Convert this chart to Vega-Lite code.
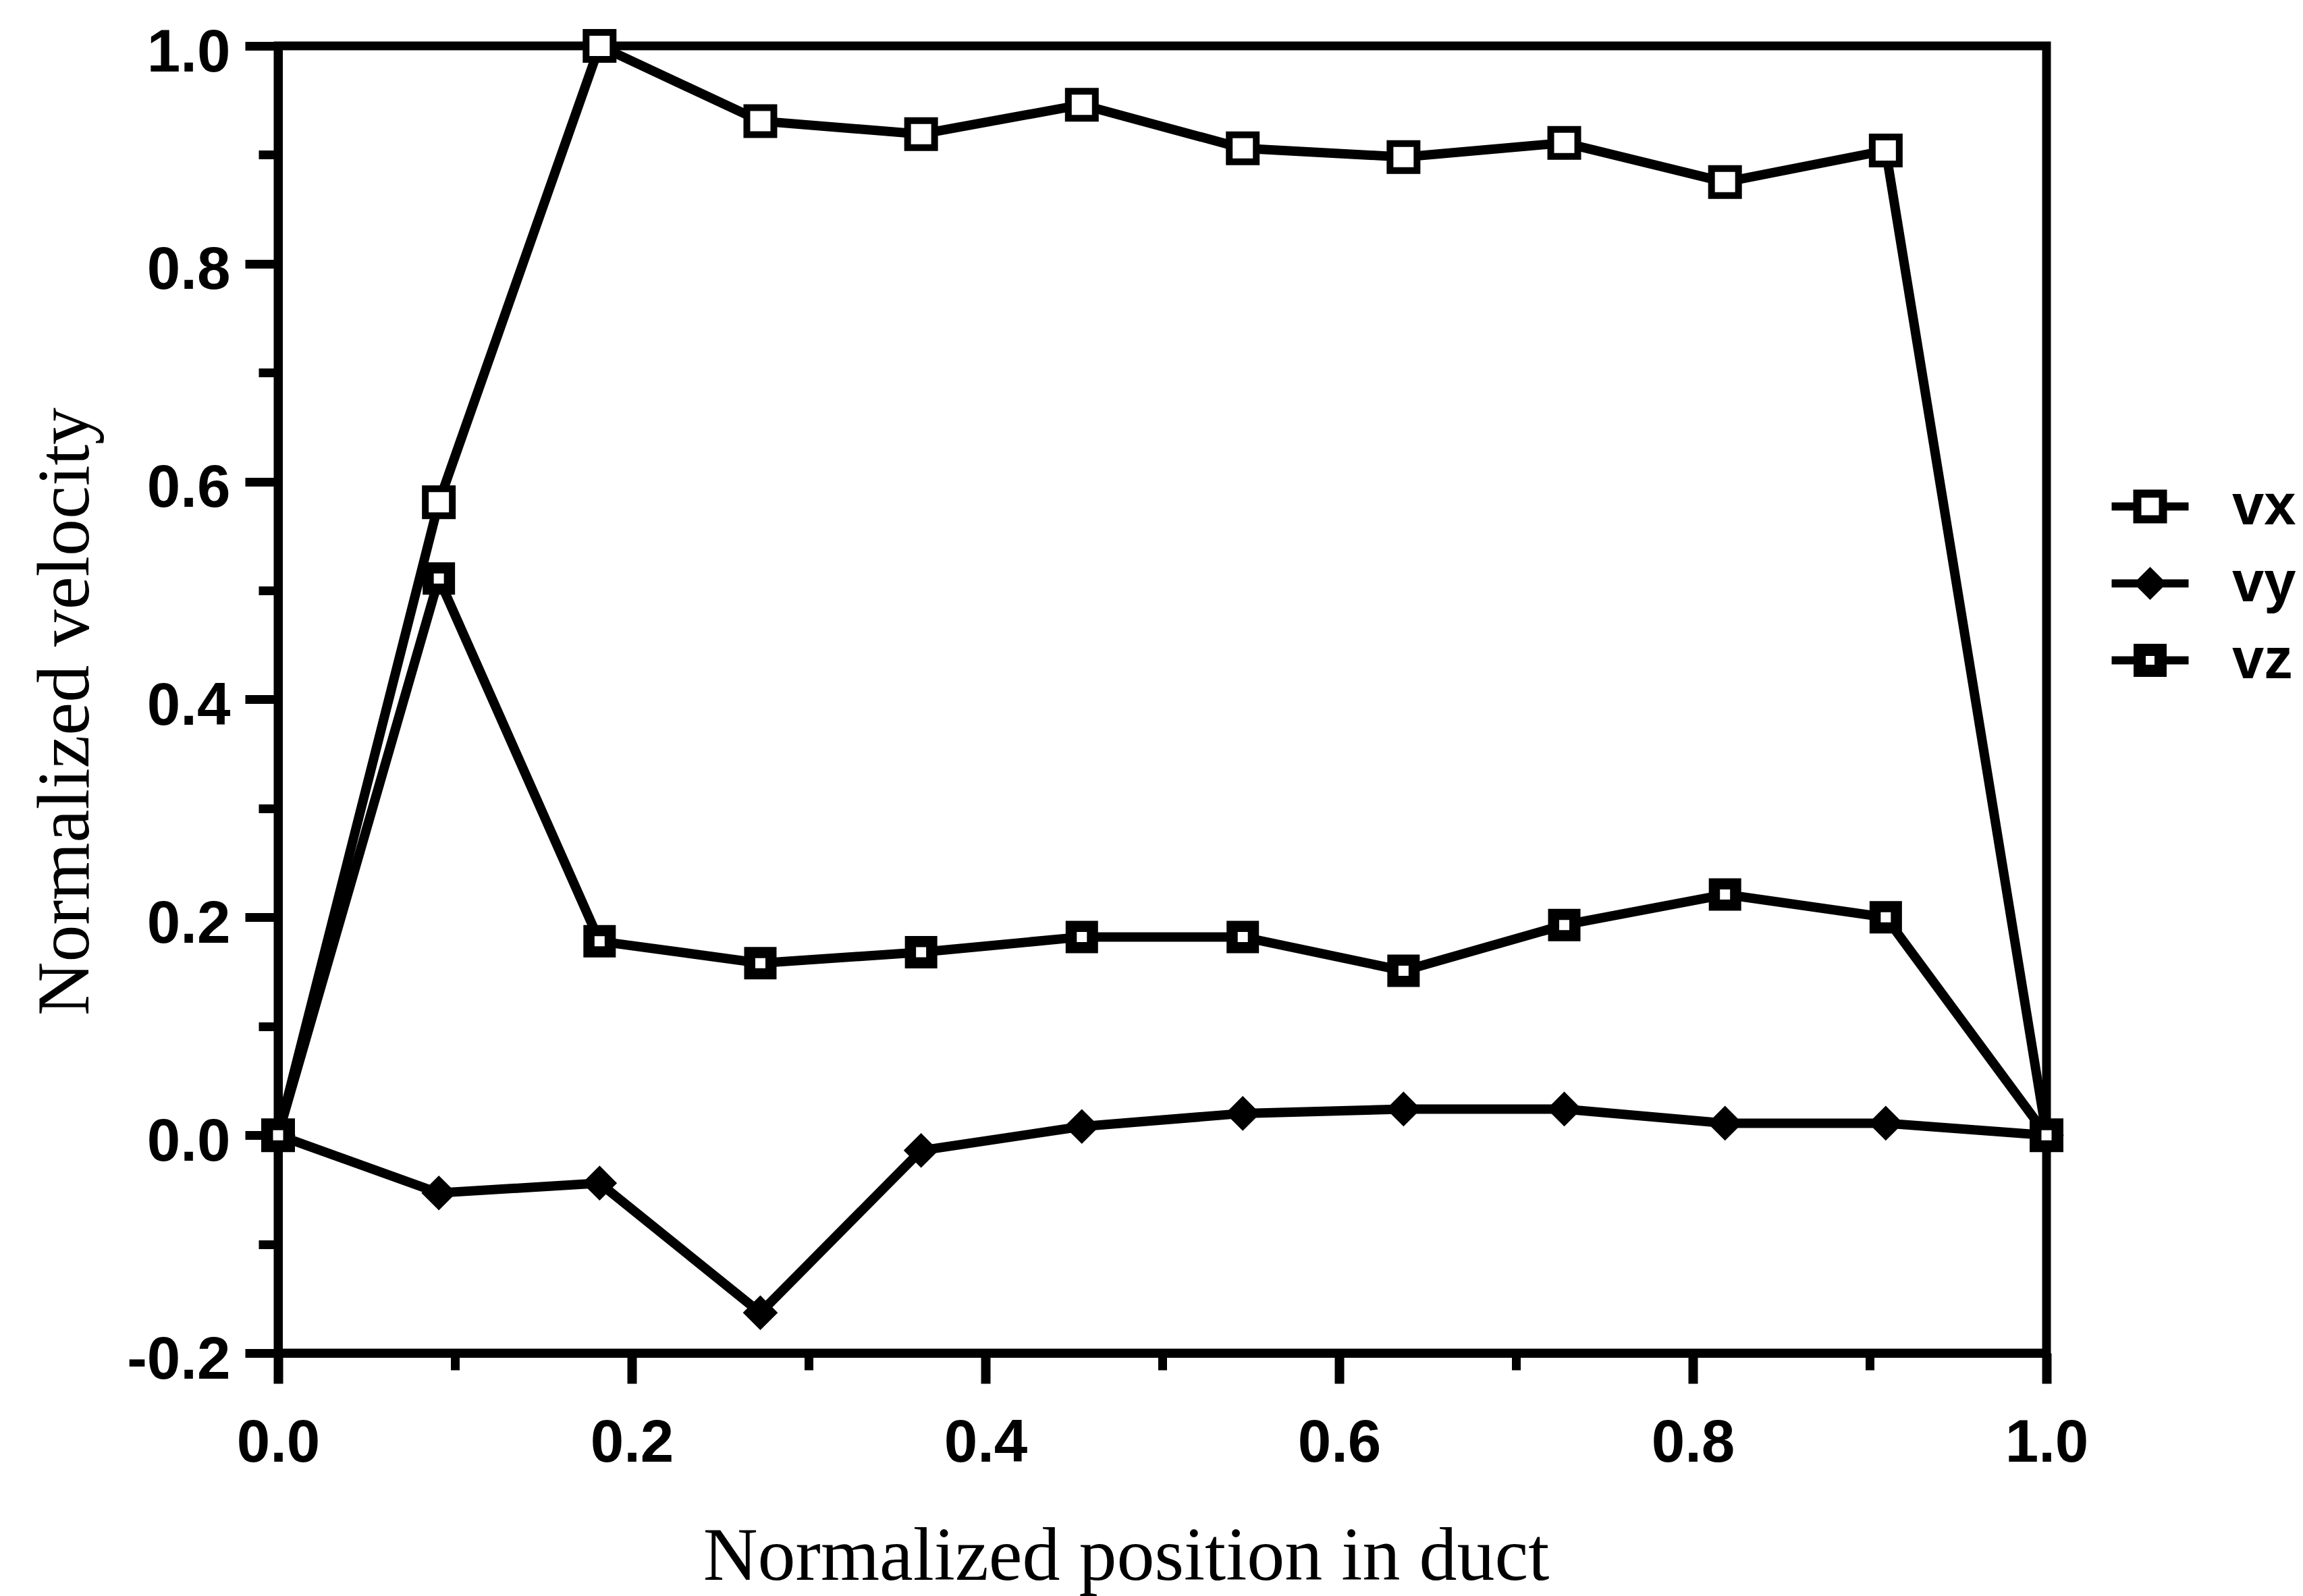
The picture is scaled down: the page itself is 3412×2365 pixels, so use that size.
{
  "$schema": "https://vega.github.io/schema/vega-lite/v6.json",
  "width": 2620,
  "height": 1937,
  "autosize": {"type": "none"},
  "padding": {"left": 412, "top": 68, "right": 380, "bottom": 360},
  "background": "white",
  "config": {
    "view": {"stroke": "black", "strokeWidth": 13},
    "axis": {"domainColor": "black", "tickColor": "black", "labelColor": "black", "titleColor": "black", "grid": false}
  },
  "data": {
    "values": [
      {"series": "vx", "pos": 0, "v": 0},
      {"series": "vx", "pos": 0.0909, "v": 0.581},
      {"series": "vx", "pos": 0.1818, "v": 1.0},
      {"series": "vx", "pos": 0.2727, "v": 0.931},
      {"series": "vx", "pos": 0.3636, "v": 0.919},
      {"series": "vx", "pos": 0.4545, "v": 0.946},
      {"series": "vx", "pos": 0.5455, "v": 0.906},
      {"series": "vx", "pos": 0.6364, "v": 0.898},
      {"series": "vx", "pos": 0.7273, "v": 0.911},
      {"series": "vx", "pos": 0.8182, "v": 0.875},
      {"series": "vx", "pos": 0.9091, "v": 0.904},
      {"series": "vx", "pos": 1, "v": 0},
      {"series": "vy", "pos": 0, "v": 0},
      {"series": "vy", "pos": 0.0909, "v": -0.053},
      {"series": "vy", "pos": 0.1818, "v": -0.044},
      {"series": "vy", "pos": 0.2727, "v": -0.163},
      {"series": "vy", "pos": 0.3636, "v": -0.014},
      {"series": "vy", "pos": 0.4545, "v": 0.008},
      {"series": "vy", "pos": 0.5455, "v": 0.020},
      {"series": "vy", "pos": 0.6364, "v": 0.024},
      {"series": "vy", "pos": 0.7273, "v": 0.024},
      {"series": "vy", "pos": 0.8182, "v": 0.011},
      {"series": "vy", "pos": 0.9091, "v": 0.011},
      {"series": "vy", "pos": 1, "v": 0},
      {"series": "vz", "pos": 0, "v": 0},
      {"series": "vz", "pos": 0.0909, "v": 0.511},
      {"series": "vz", "pos": 0.1818, "v": 0.178},
      {"series": "vz", "pos": 0.2727, "v": 0.158},
      {"series": "vz", "pos": 0.3636, "v": 0.168},
      {"series": "vz", "pos": 0.4545, "v": 0.182},
      {"series": "vz", "pos": 0.5455, "v": 0.182},
      {"series": "vz", "pos": 0.6364, "v": 0.151},
      {"series": "vz", "pos": 0.7273, "v": 0.193},
      {"series": "vz", "pos": 0.8182, "v": 0.221},
      {"series": "vz", "pos": 0.9091, "v": 0.200},
      {"series": "vz", "pos": 1, "v": 0}
    ]
  },
  "layer": [
    {
      "mark": {"type": "line", "color": "black", "strokeWidth": 14},
      "encoding": {
        "x": {
          "field": "pos", "type": "quantitative",
          "scale": {"domain": [0, 1], "nice": false, "zero": false},
          "axis": {
            "orient": "bottom", "values": [0, 0.2, 0.4, 0.6, 0.8, 1], "format": ".1f",
            "tickSize": 45, "tickWidth": 14, "domainWidth": 13,
            "labelFont": "Liberation Sans", "labelFontWeight": "bold", "labelFontSize": 89,
            "labelPadding": 45, "labelFlush": false, "labelOverlap": false,
            "title": "Normalized position in duct", "titleFont": "Liberation Serif",
            "titleFontWeight": "normal", "titleFontSize": 112,
            "titleX": 1256, "titleY": 335, "titleBaseline": "alphabetic", "titleAlign": "center"
          }
        },
        "y": {
          "field": "v", "type": "quantitative",
          "scale": {"domain": [-0.2, 1], "nice": false, "zero": false},
          "axis": {
            "orient": "left", "values": [-0.2, 0, 0.2, 0.4, 0.6, 0.8, 1],
            "labelExpr": "datum.value < 0 ? '-' + format(-datum.value, '.1f') : format(datum.value, '.1f')",
            "tickSize": 49, "tickWidth": 13, "domainWidth": 13,
            "labelFont": "Liberation Sans", "labelFontWeight": "bold", "labelFontSize": 89,
            "labelPadding": 22, "labelOffset": 10, "labelOverlap": false, "labelFlush": false,
            "title": "Normalized velocity", "titleFont": "Liberation Serif",
            "titleFontWeight": "normal", "titleFontSize": 110, "titleAngle": -90,
            "titleX": -282, "titleY": 986, "titleBaseline": "alphabetic", "titleAlign": "center"
          }
        },
        "detail": {"field": "series", "type": "nominal"}
      }
    },
    {
      "mark": {"type": "point", "filled": true, "stroke": "black", "opacity": 1},
      "encoding": {
        "x": {
          "field": "pos", "type": "quantitative",
          "axis": {"orient": "bottom", "values": [0.1, 0.3, 0.5, 0.7, 0.9], "tickSize": 25, "tickWidth": 13, "domain": false, "labels": false, "title": null}
        },
        "y": {
          "field": "v", "type": "quantitative",
          "axis": {"orient": "left", "values": [-0.1, 0.1, 0.3, 0.5, 0.7, 0.9], "tickSize": 29, "tickWidth": 13, "domain": false, "labels": false, "title": null}
        },
        "shape": {"condition": {"test": "datum.series === 'vy'", "value": "diamond"}, "value": "square"},
        "fill": {"condition": {"test": "datum.series === 'vy'", "value": "black"}, "value": "white"},
        "size": {
          "condition": [
            {"test": "datum.series === 'vy'", "value": 2116},
            {"test": "datum.series === 'vz'", "value": 992}
          ],
          "value": 1600
        },
        "strokeWidth": {
          "condition": [
            {"test": "datum.series === 'vy'", "value": 4},
            {"test": "datum.series === 'vz'", "value": 16.5}
          ],
          "value": 10
        }
      }
    },
    {
      "transform": [{"filter": "false"}],
      "mark": {"type": "point", "filled": true, "stroke": "black", "strokeWidth": 12, "opacity": 1},
      "encoding": {
        "shape": {
          "field": "series", "type": "nominal",
          "scale": {
            "domain": ["vx", "vy", "vz"],
            "range": [
              "M-2.28,0H-0.76M0.76,0H2.28M-0.76,-0.76H0.76V0.76H-0.76Z",
              "M-2.28,0H-0.64M0.64,0H2.28M-0.64,0L0,-0.64L0.64,0L0,0.64Z",
              "M-2.28,0H-0.74M0.74,0H2.28M-0.74,-0.74H0.74V0.74H-0.74ZM-0.5,-0.5H0.5V0.5H-0.5Z"
            ]
          },
          "legend": {
            "orient": "none", "legendX": 2731, "legendY": 640, "title": null,
            "symbolSize": 2500, "symbolStrokeWidth": 12, "padding": 0, "rowPadding": 28,
            "labelFont": "Liberation Sans", "labelFontWeight": "bold", "labelFontSize": 85,
            "labelColor": "black", "labelOffset": 79
          }
        },
        "fill": {
          "field": "series", "type": "nominal",
          "scale": {"domain": ["vx", "vy", "vz"], "range": ["white", "black", "white"]},
          "legend": {
            "orient": "none", "legendX": 2731, "legendY": 640, "title": null,
            "symbolSize": 2500, "symbolStrokeWidth": 12, "padding": 0, "rowPadding": 28,
            "labelFont": "Liberation Sans", "labelFontWeight": "bold", "labelFontSize": 85,
            "labelColor": "black", "labelOffset": 79
          }
        }
      }
    }
  ],
  "resolve": {"axis": {"x": "independent", "y": "independent"}}
}
